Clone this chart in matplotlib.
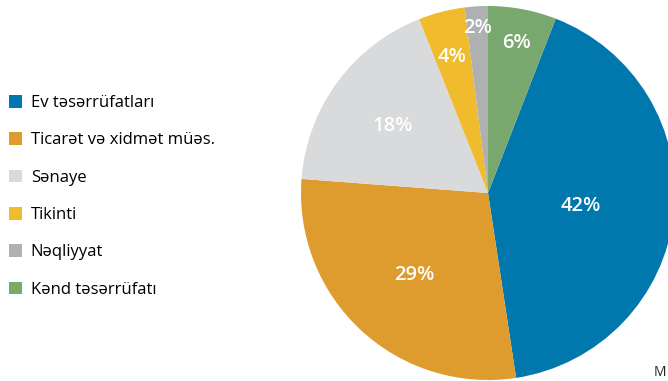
import matplotlib
matplotlib.use("Agg")
import matplotlib.pyplot as plt
from matplotlib.patches import Patch
import numpy as np

categories = ["Ev təsərrüfatları", "Ticarət və xidmət müəs.", "Sənaye",
              "Tikinti", "Nəqliyyat", "Kənd təsərrüfatı"]
values = [41.7, 28.6, 17.8, 4.0, 2.0, 5.9]
labels = ["42%", "29%", "18%", "4%", "2%", "6%"]
colors = ["#0077AD", "#DE9C2F", "#D9DADC", "#F0BB2D", "#AEB0B2", "#78A86E"]
label_dist = [0.50, 0.58, 0.63, 0.765, 0.90, 0.83]

plt.rcParams['font.family'] = ['Open Sans', 'DejaVu Sans']

W, H = 668, 381
fig = plt.figure(figsize=(W / 100, H / 100), dpi=100)
ax = fig.add_axes([0, 0, 1, 1])

cx, cy, r = 488, H - 193, 187
start = 90 - 360 * values[-1] / sum(values)
wedges, _ = ax.pie(values, colors=colors, startangle=start, counterclock=False,
                   center=(cx, cy), radius=r, frame=True,
                   wedgeprops=dict(linewidth=0))
ax.set_xlim(0, W)
ax.set_ylim(0, H)
ax.set_aspect('equal')
ax.axis('off')

for w, lab, d in zip(wedges, labels, label_dist):
    ang = np.deg2rad((w.theta1 + w.theta2) / 2)
    ax.text(cx + d * r * np.cos(ang), cy + d * r * np.sin(ang), lab,
            color='white', fontsize=14.5, fontweight='semibold',
            ha='center', va='center_baseline')

handles = [Patch(facecolor=c, edgecolor='none') for c in colors]
fig.legend(handles, categories, loc='upper left', bbox_to_anchor=(4 / W, 1 - 90 / H),
           frameon=False, fontsize=12, handlelength=0.8, handleheight=0.8,
           handletextpad=0.5, labelspacing=1.27, borderaxespad=0, borderpad=0.3)

fig.text(666 / W, 1 / H, "M", fontsize=10, color='#222222', ha='right', va='bottom')

fig.savefig("out.png", dpi=100)
